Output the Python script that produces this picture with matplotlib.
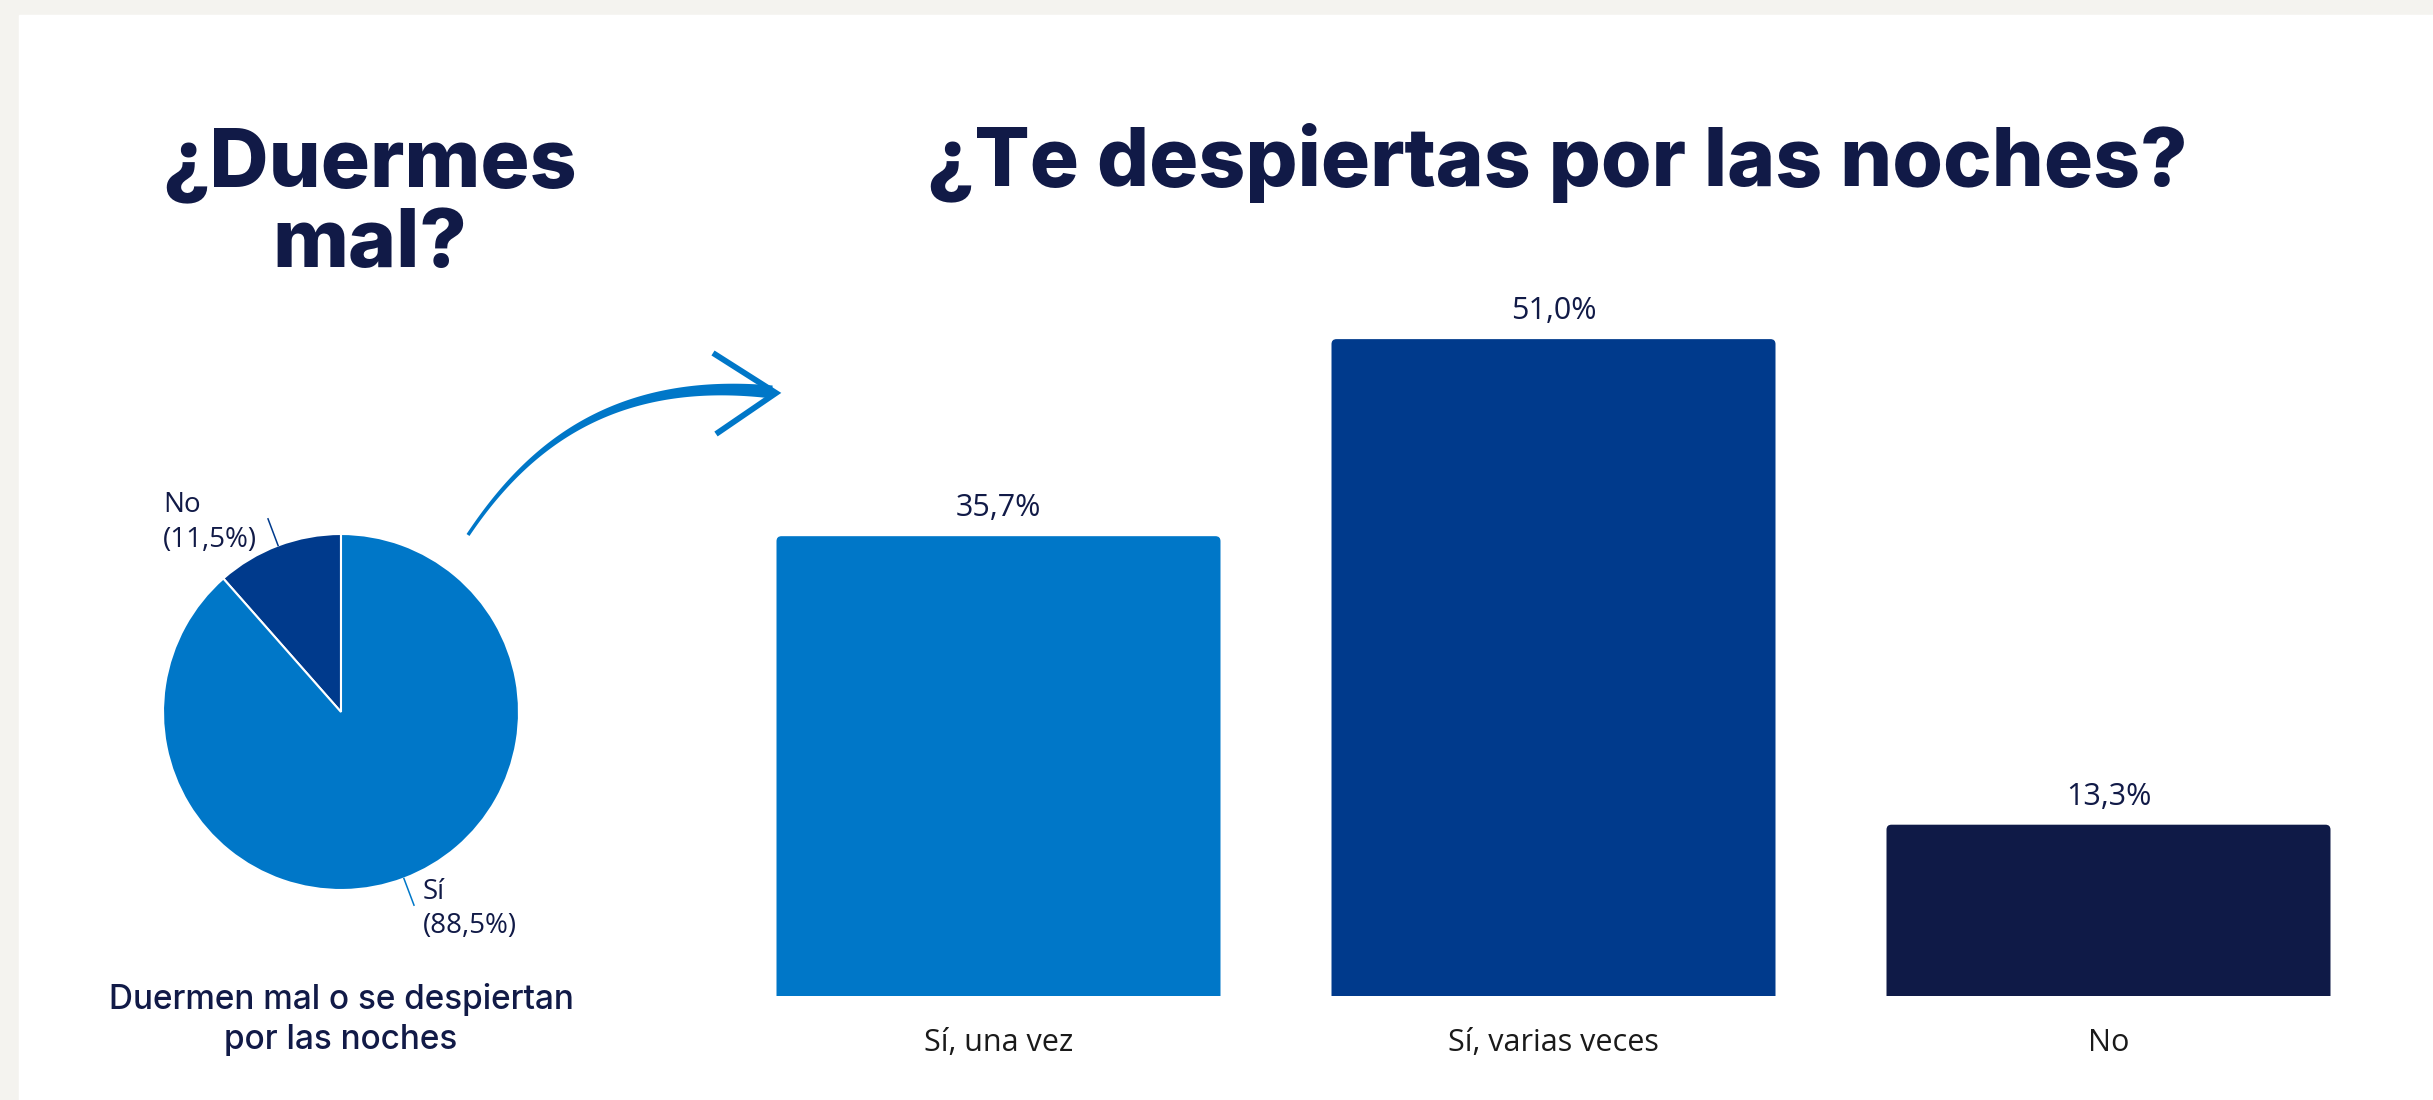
import matplotlib.pyplot as plt
import matplotlib.patches as mpatches
import numpy as np

W, H, DPI = 2433, 1100, 100

pie_labels = ['No', 'Sí']
pie_values = [11.5, 88.5]
pie_colors = ['#003a8c', '#0077c8']

bar_labels = ['Sí, una vez', 'Sí, varias veces', 'No']
bar_values = [35.7, 51.0, 13.3]
bar_colors = ['#0077c8', '#003a8c', '#0f1a47']

navy = '#111a47'
title_font = ['Inter', 'Lato', 'DejaVu Sans']
body_font = ['Open Sans', 'DejaVu Sans']


def box(x0, y0, x1, y1):
    # pixel box, top-left origin -> figure fraction rect
    return [x0 / W, 1 - y1 / H, (x1 - x0) / W, (y1 - y0) / H]


def pct(v):
    return f'{v:.1f}%'.replace('.', ',')


fig = plt.figure(figsize=(W / DPI, H / DPI), dpi=DPI, facecolor='#f4f3ef')

# pixel-space layer: white panel + curved arrow
bg = fig.add_axes([0, 0, 1, 1], zorder=0)
bg.set_xlim(0, W)
bg.set_ylim(H, 0)
bg.axis('off')
bg.add_patch(mpatches.Rectangle((19, 15), W, H, color='white'))

p = np.array([[468, 535], [525, 450], [610, 375], [772, 392]], float)
t = np.linspace(0, 1, 120)[:, None]
curve = ((1 - t) ** 3 * p[0] + 3 * (1 - t) ** 2 * t * p[1]
         + 3 * (1 - t) * t ** 2 * p[2] + t ** 3 * p[3])
d = np.gradient(curve, axis=0)
n = np.stack([-d[:, 1], d[:, 0]], axis=1)
n /= np.linalg.norm(n, axis=1)[:, None]
w = (3.5 + 9.5 * t[:, 0] ** 1.5)[:, None] / 2
outline = np.vstack([curve + n * w, (curve - n * w)[::-1]])
bg.add_patch(mpatches.Polygon(outline, closed=True, color='#0077c8', lw=0))
bg.plot([713, 776, 716], [353, 393, 434], color='#0077c8', lw=4.2,
        solid_joinstyle='miter', solid_capstyle='butt')

# titles
title_kw = dict(ha='center', va='baseline', fontsize=59, fontweight='heavy',
                family=title_font, color=navy)
fig.text(370 / W, 1 - 186 / H, '¿Duermes', **title_kw)
fig.text(370 / W, 1 - 267 / H, 'mal?', **title_kw)
fig.text(1557 / W, 1 - 186 / H, '¿Te despiertas por las noches?', **title_kw)

# pie
R = 178
ax_pie = fig.add_axes(box(341 - 1.4 * R, 712 - 1.4 * R, 341 + 1.4 * R, 712 + 1.4 * R))
wedges, _ = ax_pie.pie(pie_values, colors=pie_colors, startangle=90,
                       counterclock=True,
                       wedgeprops=dict(edgecolor='white', linewidth=1.5))
ax_pie.set_xlim(-1.4, 1.4)
ax_pie.set_ylim(-1.4, 1.4)
ax_pie.set_aspect('equal')
for wdg, lab, val, col in zip(wedges, pie_labels, pie_values, pie_colors):
    ang = np.deg2rad((wdg.theta1 + wdg.theta2) / 2)
    c, s = np.cos(ang), np.sin(ang)
    ax_pie.plot([c * 1.0, c * 1.16], [s * 1.0, s * 1.16], color=col, lw=1.1)
    side = 'right' if c < 0 else 'left'
    tx = c * 1.16 + (-0.06 if c < 0 else 0.05)
    ax_pie.text(tx, s * 1.16 - 0.02, f'{lab}\n({pct(val)})', ha=side, va='center',
                multialignment='left', fontsize=20, color=navy,
                family=body_font, linespacing=1.3)

fig.text(341 / W, 1 - 1019 / H, 'Duermen mal o se despiertan\npor las noches',
         ha='center', va='center', fontsize=24, fontweight='medium',
         family=['Inter', 'Open Sans', 'DejaVu Sans'], color=navy,
         linespacing=1.32)

# bars
px_per_unit = 12.88
ax = fig.add_axes(box(721, 996 - 60 * px_per_unit, 2386, 996))
ax.set_xlim(-0.5, 2.5)
ax.set_ylim(0, 60)
ax.axis('off')
x = np.arange(len(bar_values))
r = 5 / 555
for xi, v, col, lab in zip(x, bar_values, bar_colors, bar_labels):
    ax.add_patch(mpatches.FancyBboxPatch(
        (xi - 0.4, -1), 0.8, v + 1,
        boxstyle=f'round,pad=0,rounding_size={r}',
        mutation_aspect=555 / px_per_unit, color=col, lw=0))
    ax.text(xi, v + 28 / px_per_unit, pct(v), ha='center', va='center',
            fontsize=22, color=navy, family=body_font)
    ax.text(xi, -47 / px_per_unit, lab, ha='center', va='center',
            fontsize=22, color='#1a1a1a', family=body_font, clip_on=False)

fig.savefig('out.png', dpi=DPI, facecolor=fig.get_facecolor())
